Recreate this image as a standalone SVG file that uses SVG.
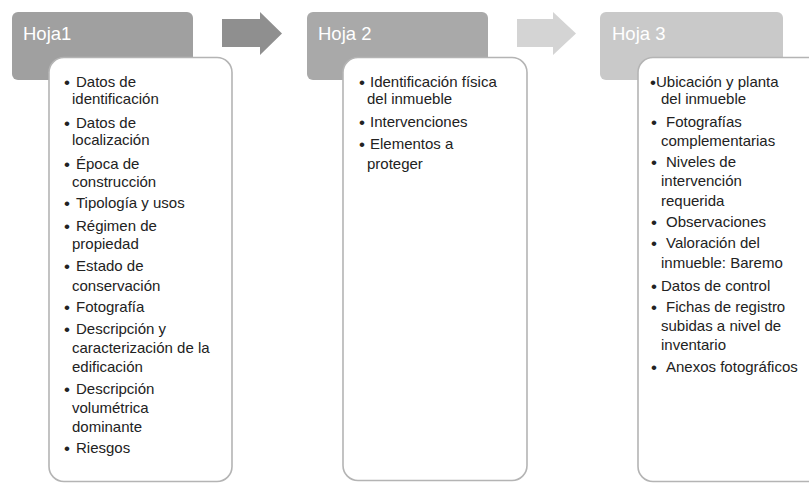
<svg xmlns="http://www.w3.org/2000/svg" width="809" height="483" viewBox="0 0 809 483">
  <style>
    .hdr { stroke: none; }
    .card { fill: #ffffff; stroke: #b4b4b4; stroke-width: 1.6; }
    .ttl { font-family: "Liberation Sans", Arial, sans-serif; font-size: 18.5px; fill: #ffffff; }
    .item { font-family: "Liberation Sans", Arial, sans-serif; font-size: 15px; fill: #222222; }
    .blt { font-size: 17px; }
  </style>
  <rect width="809" height="483" fill="#ffffff"/>

  <!-- connectors: block arrows between sheets -->
  <g id="connectors">
    <polygon points="222,19 260,19 260,12 282,33.5 260,55 260,47 222,47" fill="#8f8f8f"/>
    <polygon points="517,19 553,19 553,12 576,33.5 553,55 553,47 517,47" fill="#d4d4d4"/>
  </g>

  <!-- Hoja1 -->
  <g id="hoja1">
    <rect class="hdr" x="12" y="12" width="181" height="68" rx="6" fill="#a0a0a0"/>
    <text class="ttl" x="23" y="40">Hoja1</text>
    <rect class="card" x="49" y="57.5" width="183" height="424" rx="15"/>
    <g class="item">
      <text class="blt" x="64" y="88">•</text><text x="76" y="87">Datos de</text>
      <text x="72" y="104">identificación</text>
      <text class="blt" x="64" y="129">•</text><text x="76" y="128">Datos de</text>
      <text x="72" y="145">localización</text>
      <text class="blt" x="64" y="170">•</text><text x="76" y="169">Época de</text>
      <text x="72" y="187">construcción</text>
      <text class="blt" x="64" y="209">•</text><text x="76" y="208">Tipología y usos</text>
      <text class="blt" x="64" y="232">•</text><text x="76" y="231">Régimen de</text>
      <text x="72" y="249">propiedad</text>
      <text class="blt" x="64" y="272">•</text><text x="76" y="271">Estado de</text>
      <text x="72" y="291">conservación</text>
      <text class="blt" x="64" y="313">•</text><text x="76" y="312">Fotografía</text>
      <text class="blt" x="64" y="335">•</text><text x="76" y="334">Descripción y</text>
      <text x="72" y="353">caracterización de la</text>
      <text x="72" y="372">edificación</text>
      <text class="blt" x="64" y="395">•</text><text x="76" y="394">Descripción</text>
      <text x="72" y="413">volumétrica</text>
      <text x="72" y="432">dominante</text>
      <text class="blt" x="64" y="454">•</text><text x="76" y="453">Riesgos</text>
    </g>
  </g>

  <!-- Hoja 2 -->
  <g id="hoja2">
    <rect class="hdr" x="307" y="12" width="181" height="68" rx="6" fill="#a9a9a9"/>
    <text class="ttl" x="318" y="40">Hoja 2</text>
    <rect class="card" x="343" y="57.5" width="184" height="423" rx="15"/>
    <g class="item">
      <text class="blt" x="359" y="88">•</text><text x="370" y="87">Identificación física</text>
      <text x="367" y="104">del inmueble</text>
      <text class="blt" x="359" y="128">•</text><text x="370" y="127">Intervenciones</text>
      <text class="blt" x="359" y="150">•</text><text x="370" y="149">Elementos a</text>
      <text x="367" y="169">proteger</text>
    </g>
  </g>

  <!-- Hoja 3 -->
  <g id="hoja3">
    <rect class="hdr" x="600" y="12" width="183" height="68" rx="6" fill="#c9c9c9"/>
    <text class="ttl" x="612" y="40">Hoja 3</text>
    <rect class="card" x="638" y="57.5" width="190" height="424" rx="15"/>
    <g class="item">
      <text class="blt" x="650" y="88">•</text><text x="656" y="87">Ubicación y planta</text>
      <text x="661" y="104">del inmueble</text>
      <text class="blt" x="651" y="128">•</text><text x="666" y="127">Fotografías</text>
      <text x="661" y="146">complementarias</text>
      <text class="blt" x="651" y="168">•</text><text x="666" y="167">Niveles de</text>
      <text x="661" y="186">intervención</text>
      <text x="661" y="206">requerida</text>
      <text class="blt" x="651" y="228">•</text><text x="666" y="227">Observaciones</text>
      <text class="blt" x="651" y="249">•</text><text x="666" y="248">Valoración del</text>
      <text x="661" y="268">inmueble: Baremo</text>
      <text class="blt" x="651" y="292">•</text><text x="661" y="291">Datos de control</text>
      <text class="blt" x="651" y="313">•</text><text x="666" y="312">Fichas de registro</text>
      <text x="661" y="331">subidas a nivel de</text>
      <text x="661" y="350">inventario</text>
      <text class="blt" x="651" y="373">•</text><text x="666" y="372">Anexos fotográficos</text>
    </g>
  </g>
</svg>
